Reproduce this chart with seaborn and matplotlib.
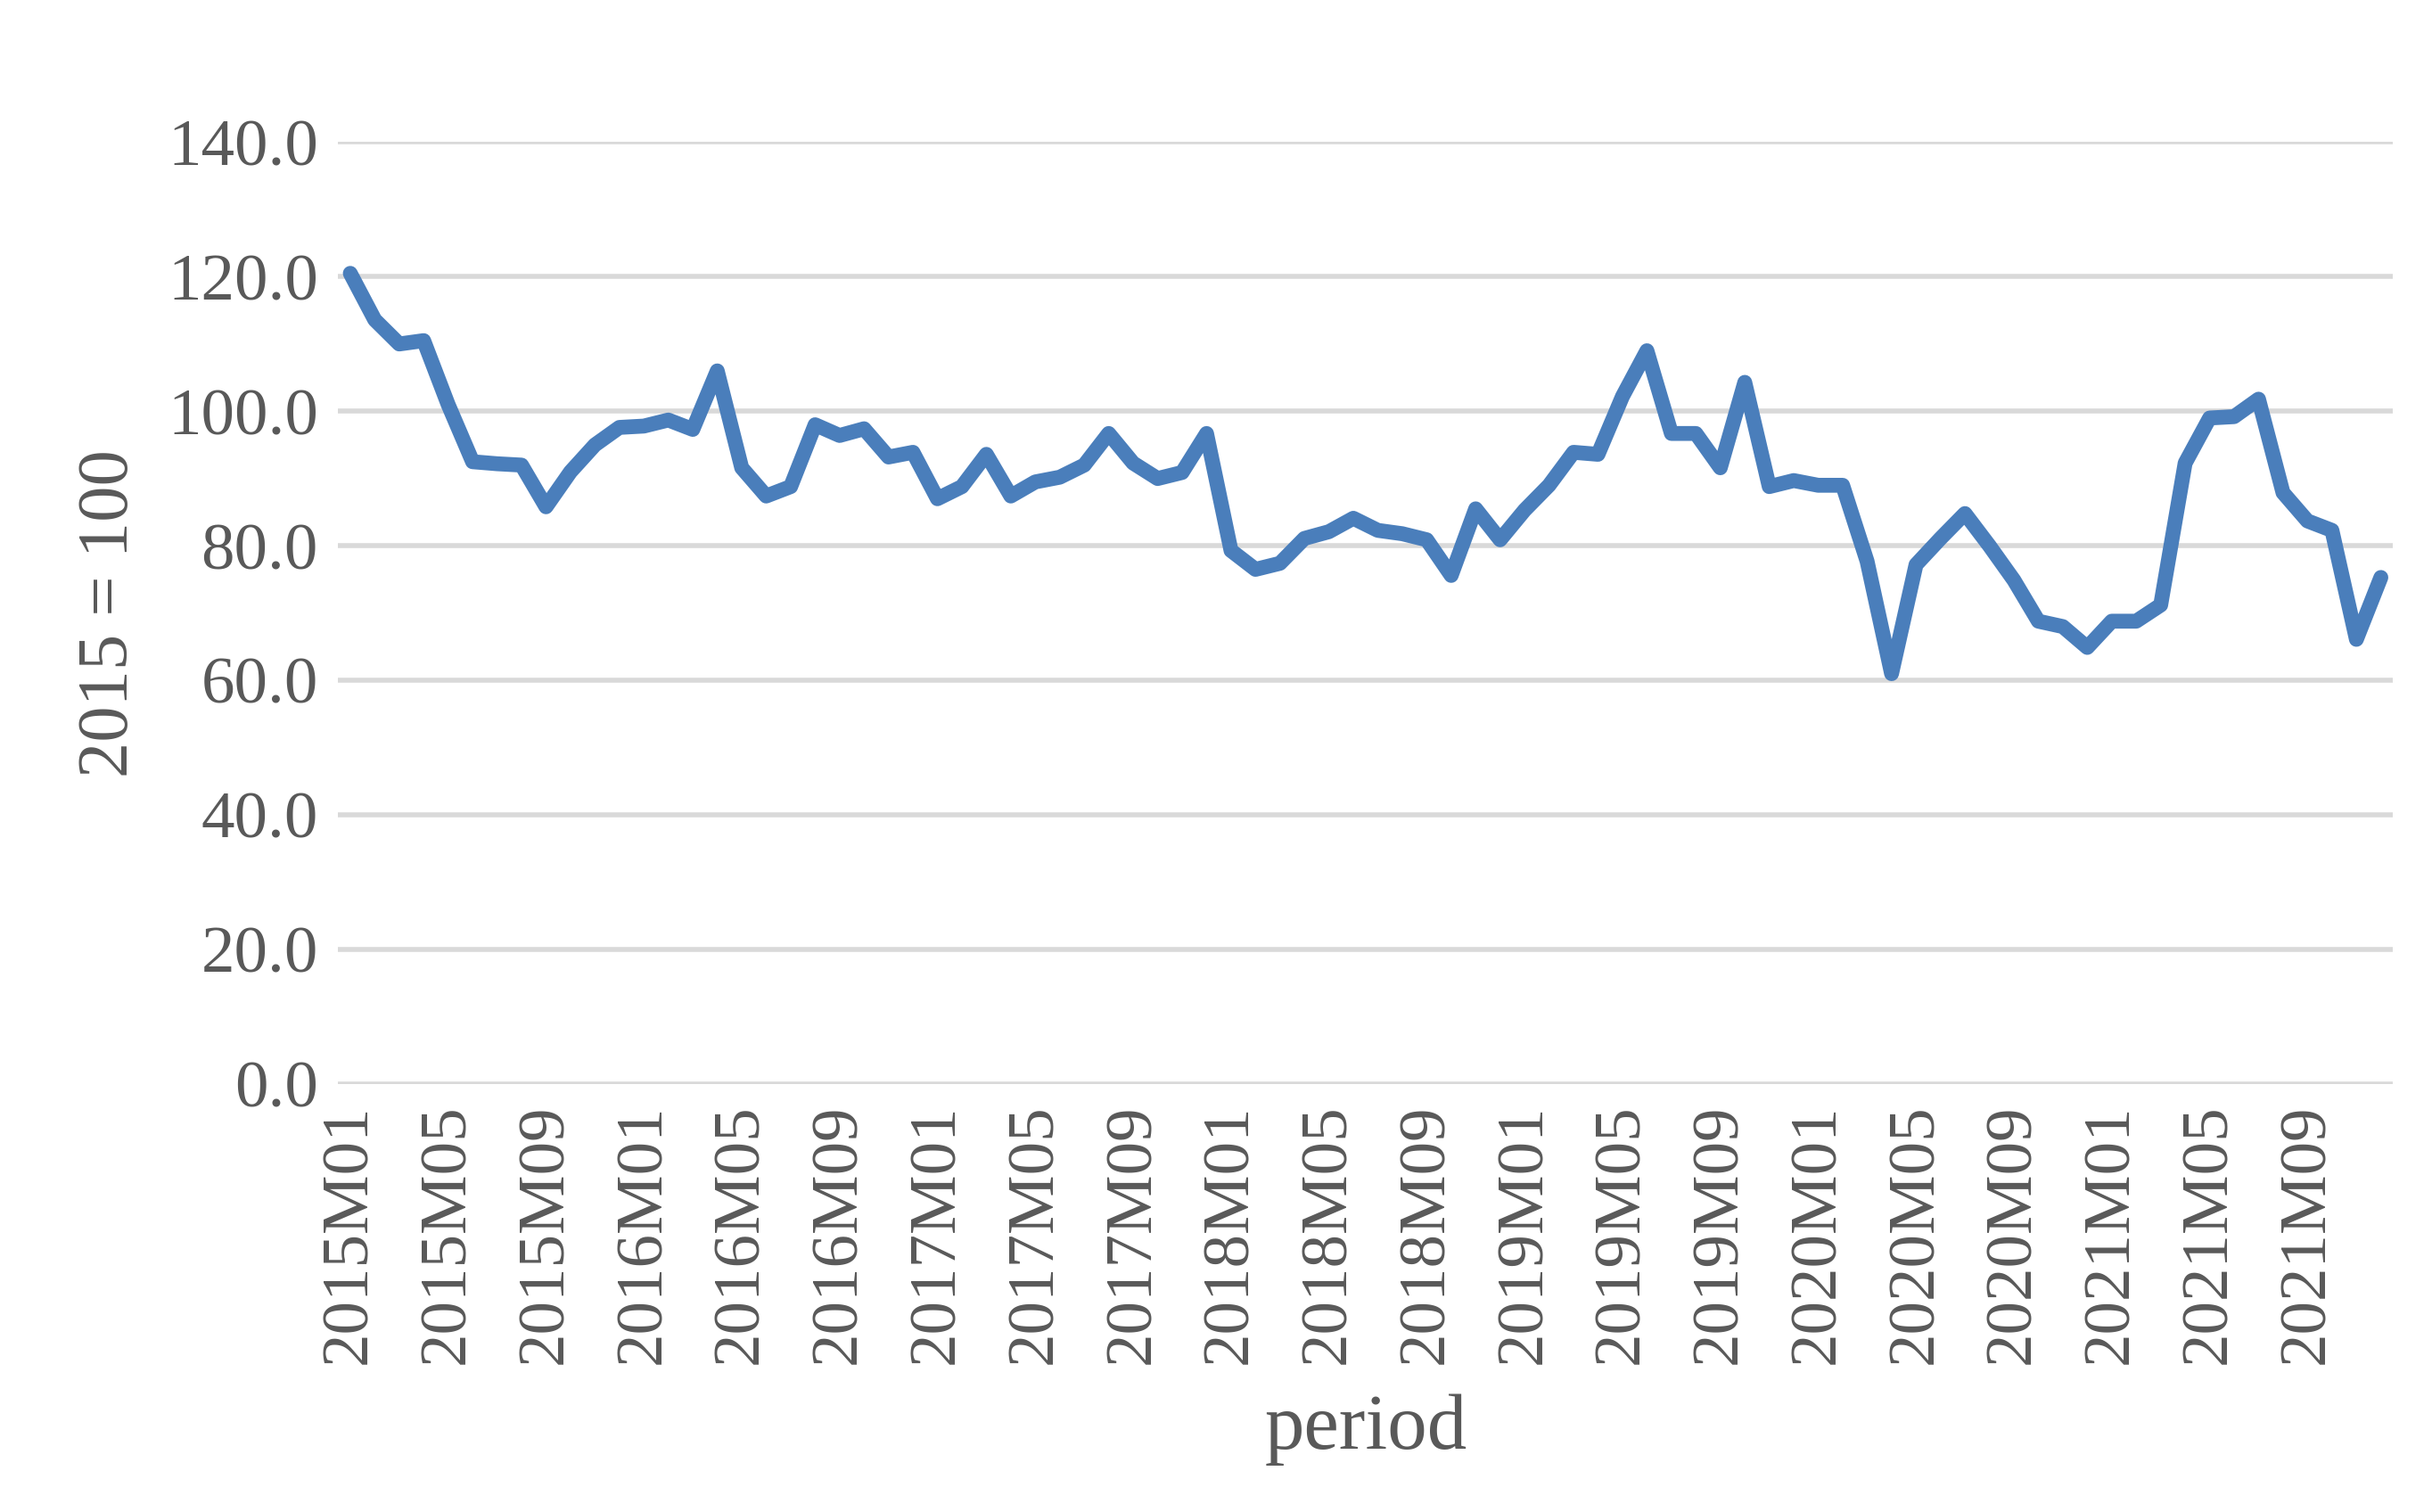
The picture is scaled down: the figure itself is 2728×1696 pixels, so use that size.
import matplotlib
matplotlib.use("Agg")
import matplotlib.pyplot as plt
import seaborn as sns
import pandas as pd

years = range(2015, 2022)
periods = [f"{y}M{m:02d}" for y in years for m in range(1, 13)]
values = [
    120.5, 113.6, 110.0, 110.5, 101.0, 92.5, 92.2, 92.0, 85.8, 91.0, 95.0, 97.6,
    97.8, 98.7, 97.3, 106.0, 91.6, 87.4, 88.8, 98.0, 96.4, 97.4, 93.2, 93.9,
    87.0, 88.8, 93.6, 87.4, 89.5, 90.2, 92.0, 96.7, 92.3, 90.0, 90.9, 96.7,
    79.3, 76.5, 77.4, 81.1, 82.1, 84.1, 82.3, 81.8, 80.9, 75.6, 85.5, 80.9,
    85.3, 89.0, 93.9, 93.6, 102.2, 109.0, 96.7, 96.7, 91.6, 104.3, 88.8, 89.7,
    89.0, 89.0, 77.7, 61.0, 77.2, 81.1, 84.8, 80.0, 74.9, 68.8, 68.0, 64.9,
    68.8, 68.8, 71.2, 92.3, 99.0, 99.2, 101.8, 87.9, 83.7, 82.3, 66.1, 75.3,
]
yticks = [0, 20, 40, 60, 80, 100, 120, 140]

df = pd.DataFrame({"idx": range(len(periods)), "value": values})

sns.set_style("white")
plt.rcParams["font.family"] = ["Liberation Serif", "DejaVu Serif"]

fig = plt.figure(figsize=(13.64, 8.48), dpi=200)
ax = fig.add_axes([0.139, 0.283, 0.845, 0.623])

sns.lineplot(data=df, x="idx", y="value", ax=ax, color="#4a7ebb", linewidth=6)

ax.set_xlim(-0.5, len(periods) - 0.5)
ax.set_ylim(0, 140)
ax.set_yticks(yticks)
ax.set_yticklabels([f"{v:.1f}" for v in yticks], fontsize=27, color="#595959")
tick_pos = list(range(0, len(periods), 4))
ax.set_xticks(tick_pos)
ax.set_xticklabels([periods[i] for i in tick_pos], rotation=90, fontsize=27, color="#595959")
ax.tick_params(length=0, pad=8)
ax.grid(axis="y", color="#d9d9d9", linewidth=2)
ax.set_axisbelow(True)
for s in ax.spines.values():
    s.set_visible(False)
ax.set_xlabel("period", fontsize=32, color="#595959", labelpad=12)
ax.set_ylabel("2015 = 100", fontsize=29, color="#595959", labelpad=10)

fig.savefig("out.png", dpi=200, facecolor="white")
